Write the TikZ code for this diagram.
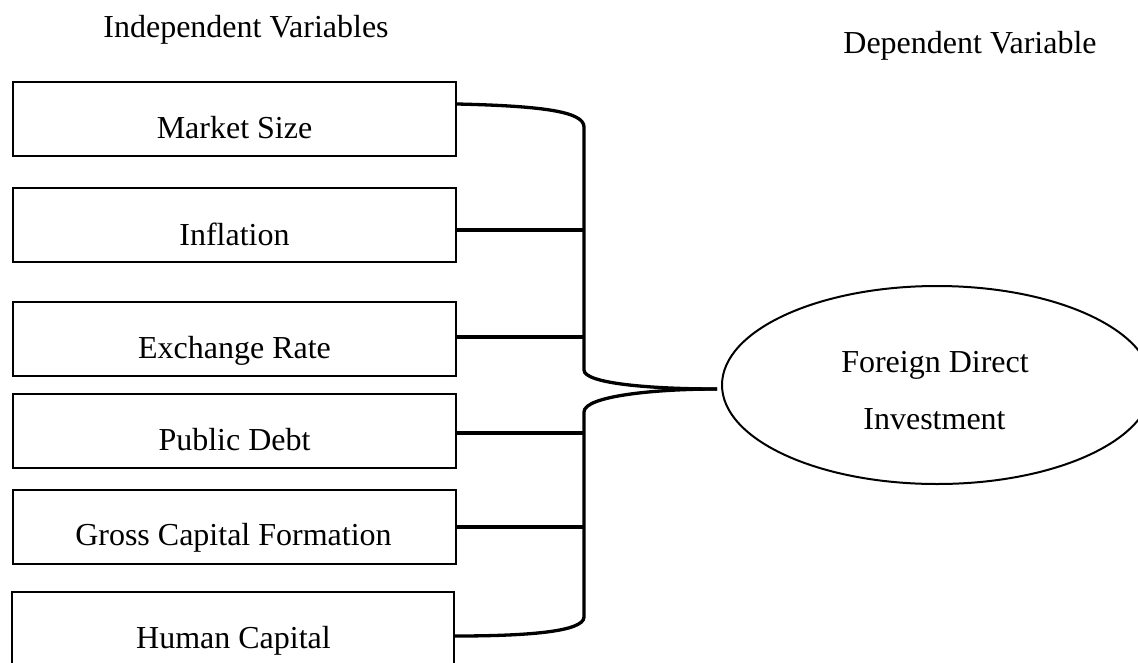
\documentclass[tikz,border=0pt]{standalone}
\usepackage{fontspec}
\setmainfont{Liberation Serif}
\usetikzlibrary{shapes.geometric,calc}
\begin{document}
\begin{tikzpicture}[x=1pt,y=-1pt,
  box/.style={draw,line width=2pt,rectangle,minimum width=443pt,minimum height=74pt,inner sep=0pt},
  lbl/.style={font=\fontsize{32}{36}\selectfont,inner sep=0pt,anchor=base},
  arm/.style={line width=4pt},
  brace/.style={line width=3.3pt}]
\useasboundingbox (0,0) rectangle (1138,662);
\clip (0,0) rectangle (1138,662);
\node[lbl] (hind) at (246,37) {Independent Variables};
\node[lbl] (hdep) at (970,53) {Dependent Variable};

\node[box] (ms) at (234.5,119) {};
\node[lbl] (tms) at (234.5,138) {Market Size};
\node[box] (inf) at (234.5,225) {};
\node[lbl] (tinf) at (234.5,245) {Inflation};
\node[box] (ex) at (234.5,339) {};
\node[lbl] (tex) at (234.5,358) {Exchange Rate};
\node[box] (pd) at (234.5,430.5) {};
\node[lbl] (tpd) at (234.5,450) {Public Debt};
\node[box] (gcf) at (234.5,526.5) {};
\node[lbl] (tgcf) at (233.5,545) {Gross Capital Formation};
\node[box,minimum width=442pt,minimum height=100pt] (hc) at (233,642) {};
\node[lbl] (thc) at (233.5,648) {Human Capital};

\node[draw,line width=2pt,ellipse,minimum width=430pt,minimum height=198pt,inner sep=0pt] (fdi) at (937,385) {};
\node[lbl] (fdi1) at (935,372) {Foreign Direct};
\node[lbl] (fdi2) at (934.5,429) {Investment};

\coordinate (tip) at (717,389);
\coordinate (spine) at (584,0);

% upper brace
\draw[brace] ($(ms.north east)+(0,23)$) .. controls (545,106) and (584,112) .. (584,127)
  -- (584,370) .. controls (584,384) and (655,389) .. (tip);
% lower brace
\draw[brace] (tip) .. controls (655,389) and (584,396) .. (584,412)
  -- (584,617) .. controls (584,632) and (525,636) .. ($(hc.north east)+(0,45)$);

\draw[arm] ([yshift=-5pt]inf.east) -- ([yshift=-5pt]inf.east -| spine);
\draw[arm] ([yshift=2pt]ex.east) -- ([yshift=2pt]ex.east -| spine);
\draw[arm] ([yshift=-2pt]pd.east) -- ([yshift=-2pt]pd.east -| spine);
\draw[arm] (gcf.east) -- (gcf.east -| spine);
\end{tikzpicture}
\end{document}
